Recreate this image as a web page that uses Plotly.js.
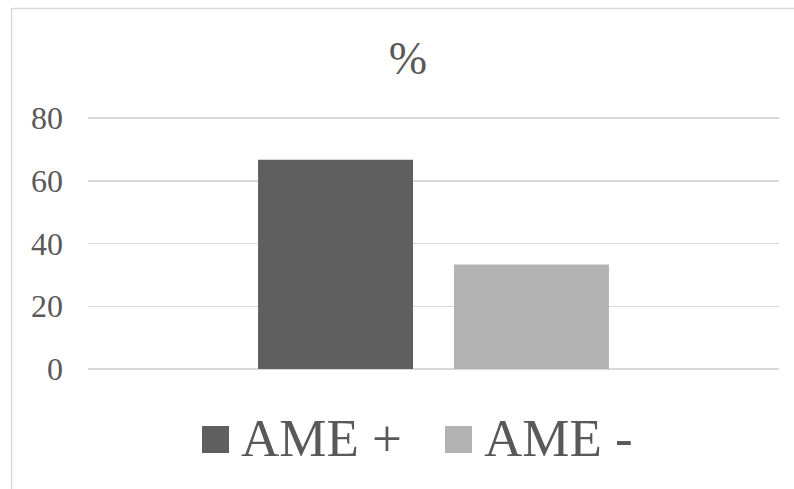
<!DOCTYPE html>
<html>
<head>
<meta charset="utf-8">
<script src="https://cdn.plot.ly/plotly-3.0.1.min.js"></script>
<style>
  html, body { margin: 0; padding: 0; background: #ffffff; }
  #chart { width: 794px; height: 489px; }
</style>
</head>
<body>
<div id="chart"></div>
<script>
// Share of patients by AME status
const categories = ['Total'];
const seriesNames = ['AME +', 'AME -'];
const seriesValues = [[66.7], [33.3]];
const seriesColors = ['#5f5f5f', '#b2b2b2'];
const yTicks = [0, 20, 40, 60, 80];

const W = 794, H = 489;
// the plot reaches a little above the top tick so its gridline is kept
const M = { l: 88, r: 15, t: 115, b: 120 };
const plotW = W - M.l - M.r, plotH = H - M.t - M.b;
const yTop = 80 * plotH / 251;
// pixel position on the page -> paper coordinate
const px = x => (x - M.l) / plotW;
const py = y => (H - M.b - y) / plotH;

const FONT = '"Liberation Serif", "Times New Roman", serif';
const TEXT = '#595959';
const GRID = '#d9d9d9';

const traces = seriesNames.map((name, i) => ({
  type: 'bar',
  name: name,
  x: categories,
  y: seriesValues[i],
  marker: { color: seriesColors[i], line: { width: 0 } },
  showlegend: false,
  hoverinfo: 'y+name'
}));

// Custom legend: large squares and labels under the plot
const legendX = [202, 445];
const shapes = [];
const annotations = [];
seriesNames.forEach((name, i) => {
  shapes.push({
    type: 'rect', xref: 'paper', yref: 'paper',
    x0: px(legendX[i]), x1: px(legendX[i] + 27),
    y0: py(453), y1: py(426),
    fillcolor: seriesColors[i], line: { width: 0 }
  });
  annotations.push({
    xref: 'paper', yref: 'paper',
    x: px(legendX[i] + 37), y: py(438),
    xanchor: 'left', yanchor: 'middle',
    text: name, showarrow: false,
    font: { family: FONT, size: 53, color: TEXT }
  });
});

// Chart area frame (left and top edges)
shapes.push({
  type: 'line', xref: 'paper', yref: 'paper',
  x0: px(11.5), x1: px(11.5), y0: py(8.5), y1: py(H + 10),
  line: { color: GRID, width: 1.5 }
});
shapes.push({
  type: 'line', xref: 'paper', yref: 'paper',
  x0: px(11.5), x1: px(W + 10), y0: py(8.5), y1: py(8.5),
  line: { color: GRID, width: 1.5 }
});

const layout = {
  width: W, height: H,
  margin: M,
  paper_bgcolor: '#ffffff',
  plot_bgcolor: '#ffffff',
  font: { family: FONT, color: TEXT },
  title: {
    text: '%',
    x: 408 / W, xref: 'container', xanchor: 'center',
    y: 1 - 58 / H, yref: 'container', yanchor: 'middle',
    font: { family: FONT, size: 46, color: TEXT }
  },
  barmode: 'group',
  bargap: 0.433,
  bargroupgap: 0.209,
  xaxis: {
    showticklabels: false, showgrid: false, zeroline: false,
    showline: false, ticks: '', fixedrange: true
  },
  yaxis: {
    range: [0, yTop],
    tickvals: yTicks,
    ticktext: yTicks.map(String),
    showgrid: true, gridcolor: GRID, gridwidth: 1.5,
    zeroline: true, zerolinecolor: GRID, zerolinewidth: 1.5,
    showline: false, ticks: '',
    ticklabelstandoff: 24,
    tickfont: { family: FONT, size: 32, color: TEXT },
    fixedrange: true
  },
  shapes: shapes,
  annotations: annotations,
  showlegend: false
};

Plotly.newPlot('chart', traces, layout, { displayModeBar: false, staticPlot: true });
</script>
</body>
</html>
